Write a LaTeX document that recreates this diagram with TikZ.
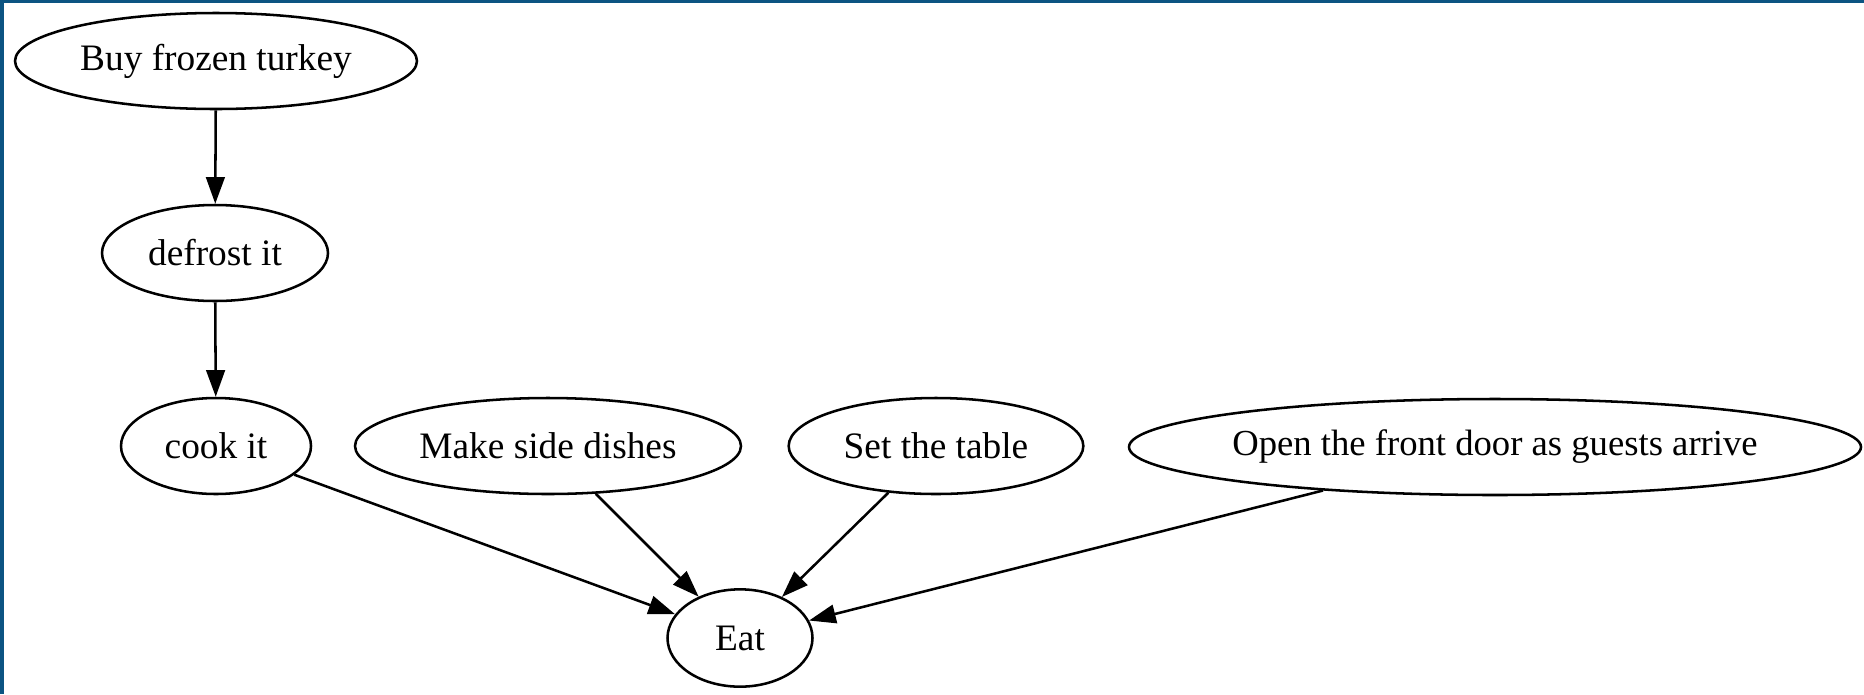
\documentclass[tikz,border=0pt]{standalone}
\usepackage{fontspec}
\setmainfont{Liberation Serif}
\usetikzlibrary{arrows.meta,shapes.geometric}
\definecolor{frameblue}{RGB}{12,84,130}
\tikzset{
  gnode/.style={draw=black, line width=1.9pt, ellipse, inner sep=0pt, minimum height=72pt,
    font=\fontsize{28}{32}\selectfont, fill=white},
  gedge/.style={draw=black, line width=1.9pt, -{Triangle[length=20pt,width=14pt]}},
}
\begin{document}
\begin{tikzpicture}[x=0.75pt,y=-0.75pt]
\fill[frameblue] (0,0) rectangle (1864,694);
\fill[white] (4,3) rectangle (1864,694);
\useasboundingbox (0,0) rectangle (1864,694);
\node[gnode, minimum width=301.5pt] (buy) at (216,61) {Buy frozen turkey};
\node[gnode, minimum width=169.5pt] (defrost) at (215,253) {defrost it};
\node[gnode, minimum width=142.5pt] (cook) at (216,446) {cook it};
\node[gnode, minimum width=289.5pt] (side) at (548,446) {Make side dishes};
\node[gnode, minimum width=221pt] (table) at (936,446) {Set the table};
\node[gnode, minimum width=549pt, inner xsep=-20pt, font=\fontsize{27.5}{32}\selectfont] (door) at (1495,447) {Open the front door as guests arrive};
\node[gnode, minimum width=108.75pt, minimum height=73pt] (eat) at (740,638) {Eat};
\draw[gedge] (buy) -- (defrost);
\draw[gedge] (defrost) -- (cook);
\draw[gedge] (cook) -- (eat);
\draw[gedge] (side) -- (eat);
\draw[gedge] (table) -- (eat);
\draw[gedge] (door) -- (eat);
\end{tikzpicture}
\end{document}
